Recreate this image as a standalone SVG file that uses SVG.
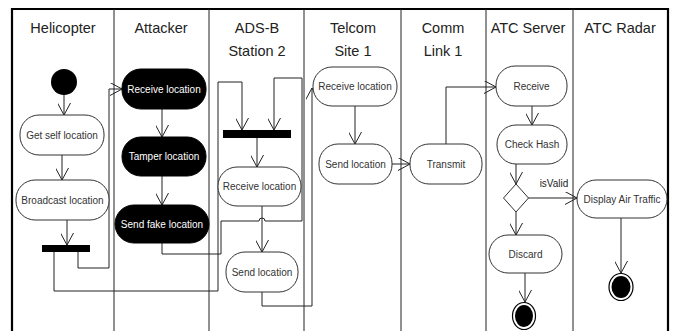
<svg xmlns="http://www.w3.org/2000/svg" width="675" height="331" viewBox="0 0 675 331">
<style>
.lane{stroke:#222;stroke-width:1;fill:none}
.frame{stroke:#000;stroke-width:2.2;fill:none}
.hd{font-family:"Liberation Sans",Arial,sans-serif;font-size:14.5px;fill:#222;text-anchor:middle}
.act{fill:#fff;stroke:#333;stroke-width:1}
.blk{fill:#000;stroke:#000;stroke-width:1}
.lbl{font-family:"Liberation Sans",Arial,sans-serif;font-size:10px;fill:#333;text-anchor:middle}
.wlbl{font-family:"Liberation Sans",Arial,sans-serif;font-size:10px;fill:#fff;text-anchor:middle}
.con{fill:none;stroke:#222;stroke-width:1;marker-end:url(#arr)}
.conn{fill:none;stroke:#222;stroke-width:1}
</style>
<defs>
<marker id="arr" viewBox="0 0 12 13" refX="12" refY="6.5" markerWidth="12" markerHeight="13" markerUnits="userSpaceOnUse" orient="auto">
<path d="M0,0 L12,6.5 L0,13" fill="none" stroke="#222" stroke-width="1"/>
</marker>
</defs>
<rect width="675" height="331" fill="#fff"/>
<g id="lanes">
<path class="frame" d="M12,331 V9 H668 V331"/>
<path class="lane" d="M114,9 V331 M209,9 V331 M304,9 V331 M401,9 V331 M486,9 V331 M573,9 V331"/>
<text class="hd" x="63" y="33">Helicopter</text>
<text class="hd" x="161" y="33">Attacker</text>
<text class="hd" x="257" y="33">ADS-B</text>
<text class="hd" x="257" y="56">Station 2</text>
<text class="hd" x="353" y="33">Telcom</text>
<text class="hd" x="353" y="56">Site 1</text>
<text class="hd" x="443" y="33">Comm</text>
<text class="hd" x="443" y="56">Link 1</text>
<text class="hd" x="528" y="33">ATC Server</text>
<text class="hd" x="620" y="33">ATC Radar</text>
</g>
<g id="connectors">
<path class="con" d="M64,95 V115"/>
<path class="con" d="M62,155 V180"/>
<path class="con" d="M67,220 V245"/>
<path class="con" d="M78,252 V268 H109 V89 H122"/>
<path class="con" d="M54,252 V291 H218 V82 H242 V130"/>
<path class="con" d="M162,109 V137"/>
<path class="con" d="M162,176 V205"/>
<path class="con" d="M162,243 V254 H221 V221 H259 A3,3 0 0 1 265,221 H302 V78 H274 V130"/>
<path class="con" d="M257,138 V167"/>
<path class="con" d="M262,206 V252"/>
<path class="con" d="M262,292 V306 H312 V88"/>
<path class="con" d="M355,106 V144"/>
<path class="con" d="M392,164 H410"/>
<path class="con" d="M446,144 V87 H496"/>
<path class="con" d="M532,106 V125"/>
<path class="con" d="M516,164 V184"/>
<path class="con" d="M528,198 H577"/>
<text class="lbl" x="554" y="187" style="fill:#222">isValid</text>
<path class="con" d="M516,212 V235"/>
<path class="con" d="M525,273 V302"/>
<path class="con" d="M621,218 V273"/>
</g>
<g id="heli-start"><circle cx="64" cy="82" r="13" fill="#000"/></g>
<g id="heli-get"><rect class="act" x="20" y="115" width="84" height="40" rx="19"/><text class="lbl" x="62" y="139">Get self location</text></g>
<g id="heli-broadcast"><rect class="act" x="16" y="180" width="93" height="40" rx="19"/><text class="lbl" x="62.5" y="204">Broadcast location</text></g>
<g id="heli-fork"><rect x="42" y="245" width="48" height="7" fill="#000"/></g>
<g id="att-receive"><rect class="blk" x="122" y="69" width="84" height="40" rx="19"/><text class="wlbl" x="164" y="93">Receive location</text></g>
<g id="att-tamper"><rect class="blk" x="122" y="137" width="84" height="39" rx="19"/><text class="wlbl" x="164" y="160">Tamper location</text></g>
<g id="att-sendfake"><rect class="blk" x="115" y="205" width="94" height="38" rx="19"/><text class="wlbl" x="162" y="228">Send fake location</text></g>
<g id="ads-join"><rect x="223" y="130" width="68" height="8" fill="#000"/></g>
<g id="ads-receive"><rect class="act" x="218" y="167" width="83" height="39" rx="19"/><text class="lbl" x="259.5" y="190">Receive location</text></g>
<g id="ads-send"><rect class="act" x="226" y="252" width="72" height="40" rx="19"/><text class="lbl" x="262" y="276">Send location</text></g>
<g id="tel-receive"><rect class="act" x="313" y="67" width="84" height="39" rx="19"/><text class="lbl" x="355" y="90">Receive location</text></g>
<g id="tel-send"><rect class="act" x="319" y="144" width="73" height="40" rx="19"/><text class="lbl" x="355.5" y="168">Send location</text></g>
<g id="comm-transmit"><rect class="act" x="410" y="144" width="72" height="40" rx="19"/><text class="lbl" x="446" y="168">Transmit</text></g>
<g id="atc-receive"><rect class="act" x="496" y="66" width="71" height="40" rx="19"/><text class="lbl" x="531.5" y="90">Receive</text></g>
<g id="atc-check"><rect class="act" x="497" y="125" width="70" height="39" rx="19"/><text class="lbl" x="532" y="148">Check Hash</text></g>
<g id="atc-decision"><path d="M516,184 L528.5,198 L516,212 L503.5,198 Z" fill="#fff" stroke="#333" stroke-width="1"/></g>
<g id="atc-discard"><rect class="act" x="489" y="235" width="73" height="38" rx="19"/><text class="lbl" x="525.5" y="258">Discard</text></g>
<g id="atc-end"><ellipse cx="524" cy="316" rx="11.5" ry="13.5" fill="#fff" stroke="#000" stroke-width="1.2"/><ellipse cx="524" cy="316" rx="9" ry="11" fill="#000"/></g>
<g id="radar-display"><rect class="act" x="577" y="180" width="90" height="38" rx="19"/><text class="lbl" x="622" y="203">Display Air Traffic</text></g>
<g id="radar-end"><ellipse cx="621" cy="287" rx="12" ry="13.5" fill="#fff" stroke="#000" stroke-width="1.2"/><ellipse cx="621" cy="287" rx="9.5" ry="11" fill="#000"/></g>
</svg>
